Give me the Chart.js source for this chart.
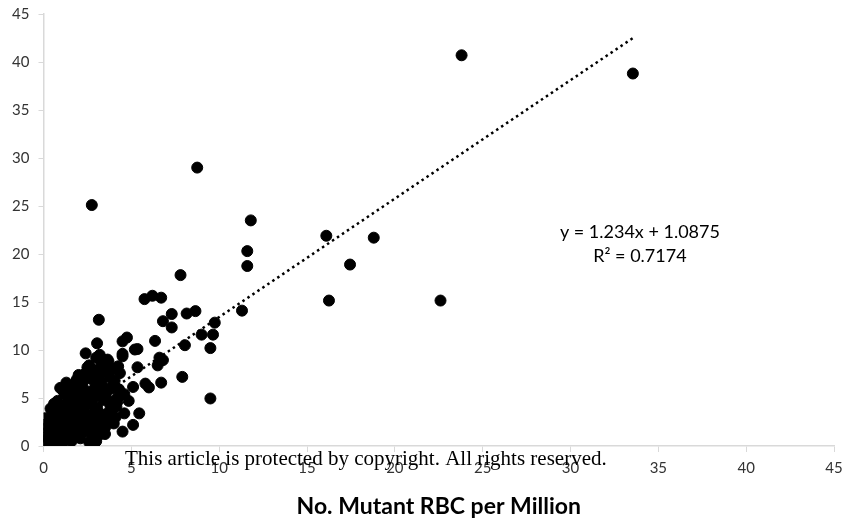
<!DOCTYPE html>
<html>
<head>
<meta charset="utf-8">
<script src="https://cdn.jsdelivr.net/npm/chart.js@4.4.1/dist/chart.umd.min.js"></script>
<style>
    html, body { margin: 0; padding: 0; background: #fff; }
    #wrap { width: 844px; height: 523px; position: relative; }
</style>
</head>
<body>
<div id="wrap"><canvas id="rbcChart"></canvas></div>
<script>
// Scatter points (x = mutant RBC per million, y = second measure)
const mutantX = [
    23.8, 33.55, 8.75, 2.75, 11.8, 16.1, 18.8, 11.6, 11.6, 17.45,
    7.8, 16.25, 22.6, 11.3, 5.75, 6.2, 6.7, 7.3, 6.8, 8.15,
    8.65, 7.3, 9.75, 9.0, 9.65, 6.35, 8.05, 9.5, 9.5, 7.9,
    3.15, 3.05, 4.5, 4.75, 5.35, 4.5, 6.6, 6.8, 6.5, 5.35,
    5.8, 6.0, 6.7, 5.1, 4.6, 4.85, 5.45, 4.6, 4.0, 5.1,
    4.5, 3.5, 3.0, 3.8, 4.15, 2.4, 0.95, 2.65, 4.25, 3.95,
    1.9, 3.2, 3.7, 4.5, 5.2,
    0.1, 0.2, 0.3, 0.15, 0.4, 0.25, 0.35, 0.1, 0.45, 0.3, 0.2,
    0.6, 0.7, 0.8, 0.65, 0.9, 0.75, 0.85, 0.55, 0.95, 0.7, 0.9,
    1.1, 1.2, 1.3, 1.05, 1.4, 1.25, 1.35, 1.15, 1.45, 1.0, 1.3,
    1.6, 1.7, 1.8, 1.65, 1.9, 1.75, 1.85, 1.55, 1.95, 1.7, 1.8, 1.6,
    2.1, 2.2, 2.3, 2.05, 2.4, 2.25, 2.35, 2.15, 2.45, 2.2, 2.3, 2.1,
    2.6, 2.7, 2.8, 2.55, 2.9, 2.75, 2.85, 2.65, 2.95, 2.7, 2.8, 2.6,
    3.1, 3.2, 3.3, 3.05, 3.4, 3.25, 3.35, 3.15, 3.45, 3.3,
    3.6, 3.7, 3.8, 3.55, 3.9, 3.75, 3.85, 3.65,
    4.1, 4.2, 4.3, 4.05, 4.35,
    0.05, 0.05, 0.05, 0.5, 0.4, 0.6, 0.3, 1.0, 0.8, 1.2,
    1.5, 1.3, 1.9, 2.0, 1.6, 2.4, 2.5, 2.2, 2.8, 3.0,
    3.0, 3.4, 3.6, 2.6, 2.1, 1.4, 1.1, 1.7, 2.3, 2.9,
    3.2, 3.5, 3.9, 4.2, 2.0, 1.8, 2.7, 3.3, 1.2, 0.7
];
const mutantY = [
    40.7, 38.8, 29.0, 25.1, 23.5, 21.9, 21.7, 20.3, 18.75, 18.9,
    17.8, 15.15, 15.15, 14.1, 15.3, 15.65, 15.45, 13.75, 13.0, 13.8,
    14.05, 12.35, 12.85, 11.6, 11.6, 10.95, 10.5, 10.2, 4.95, 7.2,
    13.15, 10.7, 10.9, 11.3, 10.1, 9.35, 9.2, 8.95, 8.4, 8.2,
    6.5, 6.1, 6.6, 6.15, 5.4, 4.7, 3.4, 3.4, 2.35, 2.2,
    1.5, 1.25, 0.5, 4.25, 4.1, 9.65, 6.05, 7.7, 8.3, 6.35,
    6.95, 9.5, 8.8, 9.6, 10.05,
    0.1, 0.3, 0.6, 1.0, 1.5, 2.0, 2.5, 2.9, 0.2, 0.8, 1.8,
    0.2, 0.7, 1.2, 1.7, 2.2, 2.8, 3.3, 0.4, 1.4, 2.6, 4.0,
    0.3, 0.9, 1.5, 2.0, 2.6, 3.1, 3.6, 4.2, 4.8, 1.1, 2.3,
    0.5, 1.0, 1.6, 2.2, 2.8, 3.4, 4.0, 4.6, 5.2, 5.8, 6.4, 3.0,
    0.8, 1.4, 2.0, 2.7, 3.3, 3.9, 4.5, 5.1, 5.7, 6.3, 6.9, 4.2,
    0.4, 1.3, 2.1, 2.9, 3.6, 4.3, 5.0, 5.6, 6.2, 7.0, 7.8, 8.4,
    1.8, 2.5, 3.3, 4.0, 4.8, 5.5, 6.2, 7.0, 7.8, 8.6,
    2.7, 3.5, 4.6, 5.4, 6.0, 7.2, 8.0, 9.0,
    3.0, 5.0, 5.9, 6.8, 7.6,
    0.5, 1.3, 2.2, 3.5, 3.9, 4.4, 1.2, 3.6, 4.7, 5.4,
    5.9, 6.6, 6.8, 7.4, 3.8, 7.6, 8.2, 7.0, 7.2, 7.9,
    9.2, 9.0, 5.8, 4.8, 5.4, 4.5, 5.8, 4.9, 3.6, 3.2,
    1.2, 1.9, 3.8, 4.6, 2.5, 1.3, 1.9, 6.6, 2.8, 3.7
];

// Linear trend line end points as drawn on the picture
const trendX = [0, 33.55];
const trendY = [1.09, 42.49];

const axisTicks = [0, 5, 10, 15, 20, 25, 30, 35, 40, 45];
const equationLines = ['y = 1.234x + 1.0875', 'R² = 0.7174'];
const watermark = 'This article is protected by copyright. All rights reserved.';
const xTitle = 'No. Mutant RBC per Million';

(function() {
    const points = mutantX.map((x, i) => ({ x: x, y: mutantY[i] }));
    const trend = trendX.map((x, i) => ({ x: x, y: trendY[i] }));

    // Draws the fit equation and the copyright stamp over the plot
    const overlayText = {
        id: 'overlayText',
        afterDraw(chart) {
            const ctx = chart.ctx;
            const xs = chart.scales.x;
            const ys = chart.scales.y;
            ctx.save();
            ctx.fillStyle = '#000';
            ctx.textAlign = 'center';
            ctx.textBaseline = 'middle';
            ctx.font = '18px Lato';
            ctx.fillText(equationLines[0], xs.getPixelForValue(33.95), ys.getPixelForValue(22.3));
            ctx.fillText(equationLines[1], xs.getPixelForValue(33.95), ys.getPixelForValue(19.8));
            ctx.font = '21px "Liberation Serif"';
            ctx.textAlign = 'left';
            ctx.fillText(watermark, 125, 459);
            ctx.restore();
        }
    };

    const axisColor = '#d9d9d9';
    const tickFont = { family: 'Lato', size: 15 };

    new Chart(document.getElementById('rbcChart'), {
        type: 'scatter',
        data: {
            datasets: [{
                label: 'Samples',
                data: points,
                backgroundColor: '#000',
                borderColor: '#000',
                pointRadius: 5.5,
                pointHoverRadius: 5.5
            }, {
                label: 'Linear fit',
                data: trend,
                showLine: true,
                pointRadius: 0,
                borderColor: '#000',
                borderWidth: 2.5,
                borderDash: [2.5, 3.5],
                fill: false
            }]
        },
        options: {
            responsive: true,
            maintainAspectRatio: false,
            animation: false,
            events: [],
            layout: { padding: { top: 14, right: 10, left: 0, bottom: 0 } },
            plugins: {
                legend: { display: false },
                tooltip: { enabled: false }
            },
            scales: {
                x: {
                    type: 'linear',
                    min: 0,
                    max: 45,
                    afterBuildTicks: (scale) => {
                        scale.ticks = axisTicks.map(v => ({ value: v }));
                    },
                    afterFit: (scale) => {
                        scale.height = 77;
                        scale.paddingRight = 0;
                        scale.paddingLeft = 0;
                    },
                    grid: {
                        drawOnChartArea: false,
                        color: axisColor,
                        tickLength: 6
                    },
                    border: { color: axisColor, width: 1.5 },
                    ticks: { color: '#333', font: tickFont, padding: 7, maxRotation: 0 },
                    title: {
                        display: true,
                        text: xTitle,
                        color: '#000',
                        font: { family: 'Lato', size: 23, weight: 'bold' },
                        padding: { top: 0, bottom: 3 }
                    }
                },
                y: {
                    min: 0,
                    max: 45,
                    afterBuildTicks: (scale) => {
                        scale.ticks = axisTicks.map(v => ({ value: v }));
                    },
                    afterFit: (scale) => {
                        scale.width = 43.5;
                        scale.paddingTop = 0;
                        scale.paddingBottom = 0;
                    },
                    grid: {
                        drawOnChartArea: false,
                        color: axisColor,
                        tickLength: 5
                    },
                    border: { color: axisColor, width: 1.5 },
                    ticks: { color: '#333', font: tickFont, padding: 9 }
                }
            }
        },
        plugins: [overlayText]
    });
})();
</script>
</body>
</html>
